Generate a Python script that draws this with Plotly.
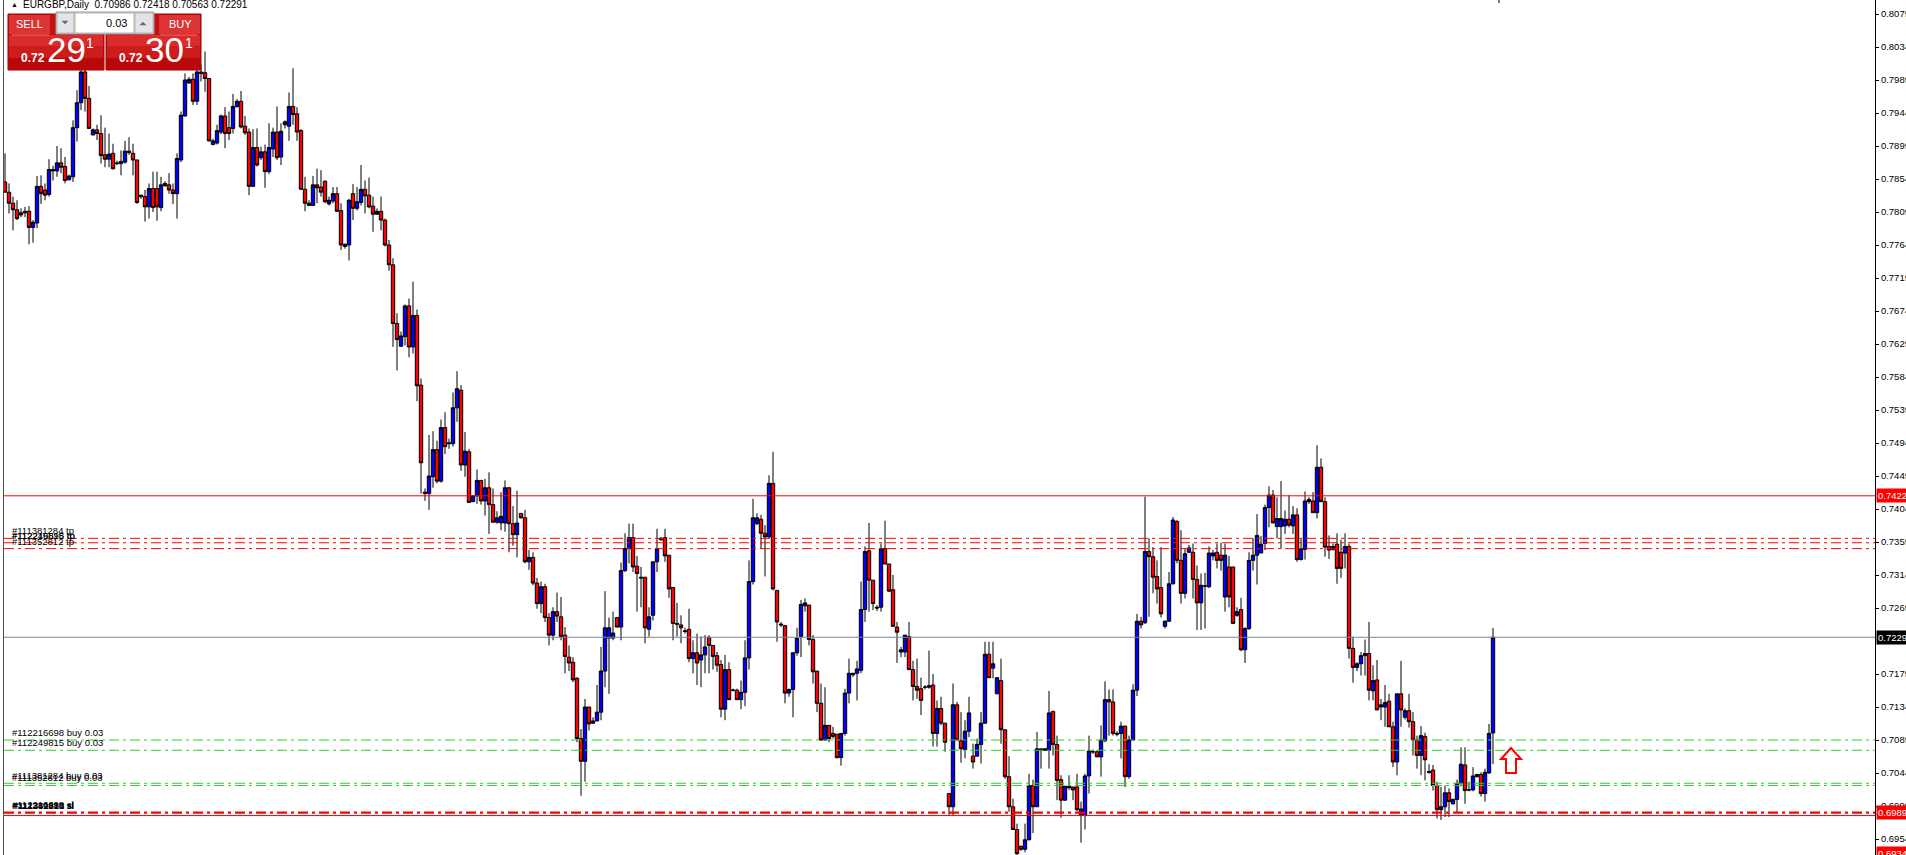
import plotly.graph_objects as go

# ---------------- data ----------------
symbol_title = "EURGBP,Daily  0.70986 0.72418 0.70563 0.72291"

opens = [
    0.7850, 0.7836, 0.7821, 0.7812, 0.7805, 0.7810, 0.7810, 0.7788, 0.7794, 0.7844,
    0.7839, 0.7833, 0.7867, 0.7865, 0.7876, 0.7871, 0.7853, 0.7857, 0.7924, 0.7958,
    0.8000, 0.7964, 0.7914, 0.7921, 0.7916, 0.7887, 0.7881, 0.7889, 0.7876, 0.7875,
    0.7877, 0.7892, 0.7889, 0.7880, 0.7832, 0.7830, 0.7816, 0.7841, 0.7841, 0.7815,
    0.7848, 0.7846, 0.7839, 0.7834, 0.7880, 0.7940, 0.7985, 0.7990, 0.7960, 0.8000,
    0.7999, 0.7991, 0.7901, 0.7903, 0.7918, 0.7940, 0.7924, 0.7923, 0.7953, 0.7960,
    0.7926, 0.7918, 0.7844, 0.7897, 0.7883, 0.7891, 0.7864, 0.7895, 0.7918, 0.7884,
    0.7928, 0.7926, 0.7953, 0.7943, 0.7920, 0.7840, 0.7818, 0.7818, 0.7846, 0.7843,
    0.7851, 0.7820, 0.7824, 0.7834, 0.7811, 0.7762, 0.7764, 0.7834, 0.7814, 0.7822,
    0.7840, 0.7832, 0.7817, 0.7806, 0.7810, 0.7798, 0.7764, 0.7737, 0.7657, 0.7626,
    0.7639, 0.7681, 0.7625, 0.7668, 0.7573, 0.7427, 0.7425, 0.7448, 0.7485, 0.7442,
    0.7515, 0.7493, 0.7493, 0.7542, 0.7566, 0.7464, 0.7482, 0.7414, 0.7422, 0.7443,
    0.7415, 0.7433, 0.7410, 0.7386, 0.7385, 0.7385, 0.7433, 0.7384, 0.7369, 0.7398,
    0.7392, 0.7332, 0.7338, 0.7303, 0.7275, 0.7298, 0.7256, 0.7232, 0.7264, 0.7257,
    0.7232, 0.7202, 0.7195, 0.7173, 0.7091, 0.7060, 0.7134, 0.7112, 0.7115, 0.7127,
    0.7183, 0.7228, 0.7228, 0.7256, 0.7243, 0.7320, 0.7350, 0.7365, 0.7326, 0.7311,
    0.7311, 0.7240, 0.7259, 0.7332, 0.7362, 0.7365, 0.7341, 0.7297, 0.7248, 0.7246,
    0.7238, 0.7240, 0.7200, 0.7208, 0.7198, 0.7205, 0.7229, 0.7218, 0.7204, 0.7192,
    0.7131, 0.7185, 0.7157, 0.7157, 0.7144, 0.7154, 0.7201, 0.7305, 0.7384, 0.7390,
    0.7371, 0.7366, 0.7439, 0.7293, 0.7247, 0.7245, 0.7153, 0.7158, 0.7208, 0.7230,
    0.7272, 0.7273, 0.7226, 0.7183, 0.7139, 0.7089, 0.7109, 0.7098, 0.7097, 0.7065,
    0.7098, 0.7153, 0.7178, 0.7180, 0.7184, 0.7267, 0.7347, 0.7307, 0.7270, 0.7270,
    0.7350, 0.7329, 0.7294, 0.7243, 0.7209, 0.7209, 0.7230, 0.7185, 0.7162, 0.7159,
    0.7161, 0.7161, 0.7164, 0.7098, 0.7132, 0.7112, 0.7016, 0.6998, 0.7137, 0.7088,
    0.7076, 0.7101, 0.7067, 0.7067, 0.7083, 0.7112, 0.7206, 0.7187, 0.7152, 0.7170,
    0.7103, 0.7039, 0.6998, 0.6967, 0.6944, 0.6940, 0.6953, 0.7027, 0.6998, 0.7077,
    0.7075, 0.7075, 0.7128, 0.7083, 0.7035, 0.7007, 0.7026, 0.7025, 0.7025, 0.6986,
    0.6986, 0.7040, 0.7073, 0.7073, 0.7066, 0.7088, 0.7144, 0.7141, 0.7098, 0.7098,
    0.7108, 0.7039, 0.7089, 0.7157, 0.7251, 0.7249, 0.7346, 0.7339, 0.7312, 0.7297,
    0.7244, 0.7251, 0.7302, 0.7387, 0.7334, 0.7289, 0.7345, 0.7345, 0.7308, 0.7276,
    0.7299, 0.7298, 0.7340, 0.7345, 0.7341, 0.7284, 0.7325, 0.7325, 0.7259, 0.7267,
    0.7212, 0.7241, 0.7334, 0.7341, 0.7344, 0.7357, 0.7406, 0.7423, 0.7380, 0.7380,
    0.7381, 0.7390, 0.7381, 0.7396, 0.7335, 0.7349, 0.7414, 0.7415, 0.7399, 0.7461,
    0.7414, 0.7353, 0.7349, 0.7356, 0.7345, 0.7344, 0.7353, 0.7214, 0.7188, 0.7193,
    0.7204, 0.7207, 0.7156, 0.7171, 0.7134, 0.7134, 0.7142, 0.7107, 0.7059, 0.7152,
    0.7120, 0.7129, 0.7114, 0.7089, 0.7068, 0.7094, 0.7046, 0.7048, 0.7027, 0.6994,
    0.6998, 0.7017, 0.7002, 0.7008, 0.7030, 0.7055, 0.7021, 0.7021, 0.7039, 0.7042,
    0.7016, 0.7044, 0.70986,
]

highs = [
    0.7889, 0.7848, 0.7830, 0.7825, 0.7814, 0.7816, 0.7817, 0.7798, 0.7858, 0.7859,
    0.7848, 0.7881, 0.7872, 0.7899, 0.7896, 0.7884, 0.7860, 0.7934, 0.7975, 0.8007,
    0.8005, 0.7981, 0.7923, 0.7928, 0.7941, 0.7924, 0.7916, 0.7902, 0.7879, 0.7893,
    0.7906, 0.7911, 0.7902, 0.7880, 0.7832, 0.7839, 0.7848, 0.7864, 0.7864, 0.7857,
    0.7851, 0.7862, 0.7848, 0.7889, 0.7946, 0.7998, 0.7993, 0.7998, 0.8005, 0.8010,
    0.8028, 0.7991, 0.7909, 0.7928, 0.7942, 0.7952, 0.7946, 0.7970, 0.7963, 0.7974,
    0.7940, 0.7923, 0.7922, 0.7923, 0.7898, 0.7901, 0.7930, 0.7924, 0.7953, 0.7930,
    0.7934, 0.7972, 0.8005, 0.7952, 0.7922, 0.7857, 0.7825, 0.7858, 0.7868, 0.7866,
    0.7852, 0.7830, 0.7843, 0.7843, 0.7821, 0.7766, 0.7827, 0.7847, 0.7843, 0.7873,
    0.7852, 0.7856, 0.7830, 0.7814, 0.7830, 0.7800, 0.7771, 0.7746, 0.7671, 0.7646,
    0.7683, 0.7691, 0.7714, 0.7676, 0.7582, 0.7432, 0.7505, 0.7510, 0.7497, 0.7526,
    0.7536, 0.7500, 0.7563, 0.7592, 0.7573, 0.7509, 0.7486, 0.7422, 0.7458, 0.7443,
    0.7445, 0.7454, 0.7432, 0.7401, 0.7427, 0.7443, 0.7433, 0.7408, 0.7429, 0.7398,
    0.7403, 0.7348, 0.7345, 0.7310, 0.7305, 0.7302, 0.7262, 0.7270, 0.7290, 0.7284,
    0.7243, 0.7218, 0.7202, 0.7175, 0.7104, 0.7145, 0.7134, 0.7120, 0.7164, 0.7216,
    0.7292, 0.7256, 0.7264, 0.7256, 0.7331, 0.7371, 0.7384, 0.7384, 0.7340, 0.7325,
    0.7311, 0.7270, 0.7332, 0.7377, 0.7366, 0.7377, 0.7341, 0.7297, 0.7276, 0.7259,
    0.7242, 0.7268, 0.7225, 0.7234, 0.7230, 0.7232, 0.7232, 0.7218, 0.7209, 0.7198,
    0.7205, 0.7195, 0.7159, 0.7159, 0.7170, 0.7225, 0.7334, 0.7418, 0.7398, 0.7396,
    0.7382, 0.7450, 0.7482, 0.7293, 0.7250, 0.7245, 0.7159, 0.7208, 0.7242, 0.7280,
    0.7282, 0.7273, 0.7232, 0.7183, 0.7166, 0.7161, 0.7109, 0.7107, 0.7097, 0.7098,
    0.7159, 0.7200, 0.7180, 0.7197, 0.7305, 0.7353, 0.7385, 0.7307, 0.7273, 0.7357,
    0.7388, 0.7329, 0.7314, 0.7250, 0.7216, 0.7232, 0.7250, 0.7197, 0.7200, 0.7174,
    0.7164, 0.7211, 0.7179, 0.7143, 0.7148, 0.7112, 0.7016, 0.7166, 0.7141, 0.7127,
    0.7116, 0.7148, 0.7084, 0.7091, 0.7127, 0.7223, 0.7223, 0.7223, 0.7174, 0.7200,
    0.7103, 0.7067, 0.7009, 0.6975, 0.6945, 0.6975, 0.7043, 0.7035, 0.7100, 0.7077,
    0.7077, 0.7156, 0.7129, 0.7095, 0.7041, 0.7026, 0.7041, 0.7025, 0.7043, 0.7005,
    0.7043, 0.7095, 0.7076, 0.7074, 0.7109, 0.7169, 0.7158, 0.7158, 0.7101, 0.7114,
    0.7108, 0.7095, 0.7165, 0.7261, 0.7257, 0.7421, 0.7364, 0.7352, 0.7334, 0.7352,
    0.7252, 0.7318, 0.7393, 0.7389, 0.7375, 0.7350, 0.7355, 0.7357, 0.7327, 0.7316,
    0.7317, 0.7353, 0.7348, 0.7357, 0.7358, 0.7357, 0.7340, 0.7325, 0.7270, 0.7283,
    0.7243, 0.7345, 0.7364, 0.7397, 0.7367, 0.7410, 0.7435, 0.7430, 0.7420, 0.7442,
    0.7402, 0.7423, 0.7408, 0.7405, 0.7364, 0.7428, 0.7420, 0.7427, 0.7491, 0.7473,
    0.7420, 0.7368, 0.7357, 0.7371, 0.7362, 0.7371, 0.7357, 0.7230, 0.7195, 0.7209,
    0.7226, 0.7250, 0.7191, 0.7198, 0.7145, 0.7164, 0.7152, 0.7114, 0.7152, 0.7197,
    0.7132, 0.7152, 0.7127, 0.7095, 0.7108, 0.7099, 0.7056, 0.7055, 0.7032, 0.7025,
    0.7027, 0.7023, 0.7009, 0.7035, 0.7079, 0.7079, 0.7032, 0.7052, 0.7043, 0.7045,
    0.7050, 0.7111, 0.72418,
]

lows = [
    0.7836, 0.7807, 0.7784, 0.7798, 0.7802, 0.7802, 0.7765, 0.7767, 0.7787, 0.7820,
    0.7825, 0.7830, 0.7852, 0.7857, 0.7862, 0.7848, 0.7852, 0.7850, 0.7905, 0.7948,
    0.7946, 0.7922, 0.7914, 0.7907, 0.7875, 0.7870, 0.7870, 0.7867, 0.7873, 0.7859,
    0.7875, 0.7887, 0.7859, 0.7820, 0.7827, 0.7796, 0.7800, 0.7809, 0.7797, 0.7810,
    0.7843, 0.7834, 0.7820, 0.7800, 0.7877, 0.7939, 0.7984, 0.7955, 0.7955, 0.7987,
    0.7973, 0.7905, 0.7900, 0.7901, 0.7915, 0.7896, 0.7907, 0.7916, 0.7951, 0.7923,
    0.7914, 0.7832, 0.7843, 0.7871, 0.7880, 0.7842, 0.7861, 0.7884, 0.7880, 0.7873,
    0.7923, 0.7906, 0.7928, 0.7906, 0.7839, 0.7810, 0.7818, 0.7818, 0.7821, 0.7830,
    0.7821, 0.7818, 0.7821, 0.7809, 0.7757, 0.7759, 0.7743, 0.7798, 0.7811, 0.7818,
    0.7807, 0.7814, 0.7782, 0.7805, 0.7784, 0.7762, 0.7729, 0.7625, 0.7593, 0.7625,
    0.7627, 0.7611, 0.7616, 0.7551, 0.7425, 0.7415, 0.7403, 0.7433, 0.7439, 0.7440,
    0.7479, 0.7486, 0.7489, 0.7523, 0.7456, 0.7448, 0.7413, 0.7414, 0.7411, 0.7410,
    0.7395, 0.7370, 0.7386, 0.7384, 0.7375, 0.7373, 0.7345, 0.7354, 0.7338, 0.7391,
    0.7330, 0.7321, 0.7300, 0.7268, 0.7262, 0.7250, 0.7218, 0.7225, 0.7250, 0.7225,
    0.7180, 0.7183, 0.7168, 0.7086, 0.7013, 0.7032, 0.7102, 0.7111, 0.7115, 0.7116,
    0.7161, 0.7152, 0.7225, 0.7243, 0.7225, 0.7318, 0.7330, 0.7318, 0.7264, 0.7270,
    0.7221, 0.7230, 0.7252, 0.7318, 0.7361, 0.7332, 0.7283, 0.7225, 0.7230, 0.7221,
    0.7234, 0.7195, 0.7180, 0.7164, 0.7161, 0.7180, 0.7180, 0.7185, 0.7182, 0.7120,
    0.7116, 0.7144, 0.7155, 0.7144, 0.7131, 0.7135, 0.7185, 0.7301, 0.7382, 0.7350,
    0.7312, 0.7364, 0.7293, 0.7223, 0.7243, 0.7139, 0.7148, 0.7120, 0.7204, 0.7202,
    0.7264, 0.7218, 0.7166, 0.7127, 0.7088, 0.7088, 0.7086, 0.7091, 0.7064, 0.7054,
    0.7095, 0.7139, 0.7175, 0.7143, 0.7180, 0.7250, 0.7264, 0.7266, 0.7265, 0.7264,
    0.7329, 0.7291, 0.7244, 0.7194, 0.7202, 0.7202, 0.7185, 0.7143, 0.7145, 0.7123,
    0.7158, 0.7159, 0.7080, 0.7080, 0.7109, 0.7073, 0.6986, 0.6986, 0.7089, 0.7058,
    0.7064, 0.7093, 0.7050, 0.7067, 0.7057, 0.7111, 0.7174, 0.7173, 0.7152, 0.7084,
    0.7036, 0.6991, 0.6967, 0.6932, 0.6938, 0.6936, 0.6952, 0.6962, 0.6998, 0.7050,
    0.7074, 0.7050, 0.7068, 0.7007, 0.6983, 0.7006, 0.7021, 0.7007, 0.6992, 0.6949,
    0.6967, 0.7016, 0.7070, 0.7066, 0.7039, 0.7086, 0.7095, 0.7095, 0.7094, 0.7064,
    0.7025, 0.7036, 0.7088, 0.7149, 0.7241, 0.7247, 0.7257, 0.7289, 0.7275, 0.7256,
    0.7241, 0.7250, 0.7301, 0.7330, 0.7275, 0.7282, 0.7344, 0.7282, 0.7239, 0.7239,
    0.7241, 0.7296, 0.7334, 0.7323, 0.7320, 0.7264, 0.7270, 0.7247, 0.7257, 0.7210,
    0.7194, 0.7239, 0.7320, 0.7301, 0.7344, 0.7348, 0.7379, 0.7385, 0.7364, 0.7350,
    0.7370, 0.7379, 0.7370, 0.7332, 0.7334, 0.7335, 0.7411, 0.7399, 0.7391, 0.7414,
    0.7339, 0.7336, 0.7347, 0.7302, 0.7310, 0.7323, 0.7200, 0.7167, 0.7183, 0.7177,
    0.7177, 0.7143, 0.7143, 0.7130, 0.7116, 0.7107, 0.7107, 0.7052, 0.7041, 0.7107,
    0.7117, 0.7106, 0.7068, 0.7050, 0.7041, 0.7034, 0.7043, 0.7020, 0.6982, 0.6980,
    0.6984, 0.6984, 0.7001, 0.6990, 0.7026, 0.7002, 0.7019, 0.7019, 0.7038, 0.7012,
    0.7005, 0.7043, 0.70563,
]

closes = [
    0.7836, 0.7821, 0.7812, 0.7800, 0.7808, 0.7808, 0.7788, 0.7795, 0.7844, 0.7834,
    0.7832, 0.7867, 0.7865, 0.7876, 0.7870, 0.7852, 0.7858, 0.7924, 0.7958, 0.8000,
    0.7964, 0.7923, 0.7921, 0.7916, 0.7886, 0.7881, 0.7888, 0.7868, 0.7875, 0.7878,
    0.7892, 0.7890, 0.7880, 0.7822, 0.7830, 0.7816, 0.7841, 0.7815, 0.7816, 0.7846,
    0.7845, 0.7839, 0.7834, 0.7882, 0.7941, 0.7989, 0.7990, 0.7960, 0.8000, 0.7998,
    0.7991, 0.7906, 0.7906, 0.7920, 0.7940, 0.7916, 0.7916, 0.7953, 0.7960, 0.7925,
    0.7917, 0.7844, 0.7897, 0.7873, 0.7891, 0.7864, 0.7897, 0.7918, 0.7883, 0.7919,
    0.7932, 0.7953, 0.7942, 0.7918, 0.7840, 0.7821, 0.7821, 0.7846, 0.7842, 0.7836,
    0.7823, 0.7825, 0.7834, 0.7810, 0.7764, 0.7765, 0.7825, 0.7814, 0.7823, 0.7840,
    0.7831, 0.7816, 0.7806, 0.7810, 0.7798, 0.7764, 0.7737, 0.7657, 0.7635, 0.7640,
    0.7681, 0.7625, 0.7668, 0.7572, 0.7467, 0.7425, 0.7449, 0.7485, 0.7442, 0.7515,
    0.7489, 0.7494, 0.7542, 0.7568, 0.7464, 0.7483, 0.7413, 0.7422, 0.7443, 0.7415,
    0.7433, 0.7410, 0.7386, 0.7392, 0.7394, 0.7433, 0.7384, 0.7369, 0.7385, 0.7392,
    0.7332, 0.7338, 0.7303, 0.7275, 0.7298, 0.7256, 0.7232, 0.7264, 0.7258, 0.7230,
    0.7203, 0.7194, 0.7171, 0.7091, 0.7060, 0.7134, 0.7111, 0.7115, 0.7127, 0.7183,
    0.7242, 0.7242, 0.7235, 0.7243, 0.7320, 0.7350, 0.7365, 0.7325, 0.7316, 0.7310,
    0.7242, 0.7257, 0.7332, 0.7350, 0.7364, 0.7340, 0.7295, 0.7248, 0.7247, 0.7242,
    0.7237, 0.7200, 0.7208, 0.7194, 0.7205, 0.7216, 0.7218, 0.7203, 0.7191, 0.7131,
    0.7185, 0.7144, 0.7157, 0.7144, 0.7154, 0.7201, 0.7305, 0.7392, 0.7392, 0.7371,
    0.7366, 0.7439, 0.7295, 0.7250, 0.7246, 0.7153, 0.7158, 0.7208, 0.7228, 0.7274,
    0.7276, 0.7226, 0.7182, 0.7139, 0.7089, 0.7109, 0.7091, 0.7094, 0.7065, 0.7098,
    0.7153, 0.7180, 0.7180, 0.7186, 0.7267, 0.7346, 0.7307, 0.7275, 0.7269, 0.7350,
    0.7329, 0.7292, 0.7244, 0.7236, 0.7212, 0.7232, 0.7185, 0.7162, 0.7157, 0.7143,
    0.7161, 0.7163, 0.7098, 0.7132, 0.7112, 0.7086, 0.6998, 0.7137, 0.7089, 0.7077,
    0.7101, 0.7126, 0.7059, 0.7083, 0.7112, 0.7206, 0.7174, 0.7193, 0.7174, 0.7103,
    0.7039, 0.6998, 0.6967, 0.6934, 0.6940, 0.6953, 0.7027, 0.6998, 0.7077, 0.7075,
    0.7077, 0.7126, 0.7083, 0.7034, 0.7007, 0.7026, 0.7024, 0.7021, 0.6994, 0.6995,
    0.7040, 0.7074, 0.7073, 0.7066, 0.7089, 0.7144, 0.7141, 0.7098, 0.7097, 0.7108,
    0.7039, 0.7089, 0.7157, 0.7251, 0.7246, 0.7346, 0.7339, 0.7311, 0.7295, 0.7261,
    0.7251, 0.7302, 0.7389, 0.7334, 0.7289, 0.7343, 0.7351, 0.7308, 0.7276, 0.7300,
    0.7299, 0.7344, 0.7344, 0.7334, 0.7334, 0.7341, 0.7284, 0.7248, 0.7264, 0.7212,
    0.7241, 0.7334, 0.7341, 0.7368, 0.7356, 0.7406, 0.7423, 0.7385, 0.7391, 0.7391,
    0.7390, 0.7382, 0.7396, 0.7335, 0.7350, 0.7415, 0.7417, 0.7399, 0.7461, 0.7414,
    0.7352, 0.7348, 0.7353, 0.7323, 0.7323, 0.7353, 0.7214, 0.7188, 0.7193, 0.7204,
    0.7207, 0.7157, 0.7170, 0.7130, 0.7137, 0.7140, 0.7107, 0.7059, 0.7152, 0.7130,
    0.7129, 0.7114, 0.7089, 0.7068, 0.7095, 0.7062, 0.7045, 0.7027, 0.6994, 0.6998,
    0.7017, 0.7005, 0.7008, 0.7030, 0.7056, 0.7020, 0.7021, 0.7040, 0.7042, 0.7016,
    0.7045, 0.7098, 0.72291,
]

bar_index = list(range(len(closes)))

price_ticks = [0.8079, 0.8034, 0.7989, 0.7944, 0.7899, 0.7854, 0.7809, 0.7764, 0.7719,
               0.7674, 0.7629, 0.7584, 0.7539, 0.7494, 0.7449, 0.7404, 0.7359, 0.7314,
               0.7269, 0.7179, 0.7134, 0.7089, 0.7044, 0.6999, 0.6954]
price_tick_text = ["0.8079", "0.8034", "0.7989", "0.7944", "0.7899", "0.7854", "0.7809",
                   "0.7764", "0.7719", "0.7674", "0.7629", "0.7584", "0.7539", "0.7494",
                   "0.7449", "0.7404", "0.7359", "0.7314", "0.7269", "0.7179", "0.7134",
                   "0.7089", "0.7044", "0.6999", "0.6954"]

resistance_level = 0.7422
current_price = 0.72291
support_level = 0.6986
tp_levels = [0.7364, 0.7358, 0.7350]
buy_levels = [0.7089, 0.7075, 0.7030, 0.7027]
sl_levels = [0.69905, 0.69895]

tp_label_text = ["#111381284 tp", "#112249815 tp", "#112216698 tp", "#111352812 tp"]
tp_label_price = [0.7364, 0.7358, 0.73575, 0.7350]
buy_label_text = ["#112216698 buy 0.03", "#112249815 buy 0.03",
                  "#111381284 buy 0.03", "#111352812 buy 0.03"]
buy_label_price = [0.7089, 0.7075, 0.7030, 0.7027]
sl_label_text = ["#112216698 sl", "#112249815 sl", "#111381284 sl", "#111352812 sl"]
sl_label_price = [0.69905, 0.6990, 0.69895, 0.6989]

tag_text = ["0.74220", "0.72291", "0.69895", "0.69340"]
tag_price = [0.7422, 0.72291, 0.69895, 0.6934]
tag_color = ["#FF0000", "#000000", "#FF0000", "#FF0000"]

# ---------------- layout geometry (pixels) ----------------
W, H = 1906, 855
PL, PR = 4, 1875
Y_TOP, Y_BOT = 0.80981, 0.69322


def fx(x):
    return (x - PL) / (PR - PL)


def fy(y):
    return 1 - y / H


fig = go.Figure()

fig.add_trace(go.Candlestick(
    x=bar_index, open=opens, high=highs, low=lows, close=closes,
    increasing=dict(line=dict(color="#000000", width=1), fillcolor="#0000FF"),
    decreasing=dict(line=dict(color="#000000", width=1), fillcolor="#FF0000"),
    whiskerwidth=0, hoverinfo="skip", showlegend=False,
))

shapes = []


def hline(price, color, dash="solid", width=1):
    shapes.append(dict(type="line", xref="paper", yref="y", x0=0, x1=1, y0=price, y1=price,
                       line=dict(color=color, width=width, dash=dash), layer="above"))


DASHDOT = "10px,4px,3px,4px"
hline(resistance_level, "#FF0000")
for p in tp_levels:
    hline(p, "#FF0000", DASHDOT)
hline(current_price, "#778899")
for p in buy_levels:
    hline(p, "#32CD32", DASHDOT)
for p in sl_levels:
    hline(p, "#FF0000", DASHDOT, 1.5)
hline(support_level, "#FF0000")

# left chart frame line
shapes.append(dict(type="line", xref="paper", yref="paper", x0=fx(3.5), x1=fx(3.5), y0=0, y1=1,
                   line=dict(color="#505050", width=1), layer="above"))
# small mark at top
shapes.append(dict(type="line", xref="paper", yref="paper", x0=fx(1499), x1=fx(1499), y0=fy(0), y1=fy(3),
                   line=dict(color="#7080a0", width=2), layer="above"))


def rect(x0, y0, x1, y1, fill, line=None, lw=1):
    shapes.append(dict(type="rect", xref="paper", yref="paper",
                       x0=fx(x0), x1=fx(x1), y0=fy(y1), y1=fy(y0),
                       fillcolor=fill, line=dict(color=line or fill, width=lw if line else 0),
                       layer="above"))


# one-click trading panel
for (a, b) in [(8, 104), (106, 201)]:
    rect(a, 14, b, 70, "#c41010", "#a00000")
    rect(a + 1, 35, b - 1, 46, "#da2c2c")
    rect(a + 1, 46, b - 1, 58, "#cc1c1c")
    rect(a + 1, 58, b - 1, 69, "#b80808")
rect(9, 15, 50, 34, "#dc3434")
rect(159, 15, 200, 34, "#dc3434")
shapes.append(dict(type="line", xref="paper", yref="paper", x0=fx(12), x1=fx(49), y0=fy(35), y1=fy(35),
                   line=dict(color="#f07070", width=1), layer="above"))
shapes.append(dict(type="line", xref="paper", yref="paper", x0=fx(160), x1=fx(197), y0=fy(35), y1=fy(35),
                   line=dict(color="#f07070", width=1), layer="above"))
rect(56, 12, 154, 34, "#d0d0d0", "#9a9a9a")
rect(57, 13, 74, 33, "#e4e4e4", "#b4b4b4")
rect(75, 13, 134, 33, "#ffffff", "#b4b4b4")
rect(135, 13, 153, 33, "#e4e4e4", "#b4b4b4")


def tri(points, color):
    path = "M " + " L ".join(f"{fx(x)},{fy(y)}" for x, y in points) + " Z"
    shapes.append(dict(type="path", xref="paper", yref="paper", path=path,
                       fillcolor=color, line=dict(color=color, width=0.5), layer="above"))


tri([(62, 21), (68, 21), (65, 24)], "#5a6a9a")
tri([(140, 25), (146, 25), (143, 22)], "#5a6a9a")

# red up arrow
arrow_pts = [(1501, 759), (1511, 748), (1521, 759), (1516, 759), (1516, 773), (1506, 773), (1506, 759)]
shapes.append(dict(type="path", xref="paper", yref="paper",
                   path="M " + " L ".join(f"{fx(x)},{fy(y)}" for x, y in arrow_pts) + " Z",
                   fillcolor="#ffffff", line=dict(color="#FF0000", width=2), layer="above"))

annotations = []
LBL_FONT = "Liberation Sans, Arial, sans-serif"


def add_text(x, y, text, size, color="#000000", anchor="left", bold=False, family=LBL_FONT):
    annotations.append(dict(xref="paper", yref="paper", x=fx(x), y=fy(y), text=(f"<b>{text}</b>" if bold else text),
                            showarrow=False, xanchor=anchor, yanchor="middle",
                            font=dict(family=family, size=size, color=color)))


def line_label(text, price, dx=0):
    annotations.append(dict(xref="paper", yref="y", x=fx(10 + dx), y=price, text=text,
                            showarrow=False, xanchor="left", yanchor="bottom", yshift=0,
                            font=dict(family=LBL_FONT, size=9.5, color="#000000")))


for t, p in zip(tp_label_text, tp_label_price):
    line_label(t, p)
for t, p in zip(buy_label_text, buy_label_price):
    line_label(t, p)
for k, (t, p) in enumerate(zip(sl_label_text, sl_label_price)):
    line_label(t, p, dx=k * 0.4)

# price tags on the axis
for t, p, c in zip(tag_text, tag_price, tag_color):
    annotations.append(dict(xref="paper", yref="y", x=fx(1876), y=p, text=t, showarrow=False,
                            xanchor="left", yanchor="middle", bgcolor=c, borderpad=1,
                            font=dict(family=LBL_FONT, size=9.5, color="#ffffff")))

# header and panel text
add_text(9, 5, "▲", 7)
add_text(21, 5, symbol_title, 10)
add_text(29, 24, "SELL", 11, "#ffffff", "center")
add_text(180, 24, "BUY", 11, "#ffffff", "center")
add_text(129, 23, "0.03", 11, "#000000", "right")
add_text(33, 58, "0.72", 12, "#ffffff", "center", bold=True)
add_text(66, 49, "29", 35, "#ffffff", "center")
add_text(90, 43, "1", 14, "#ffffff", "center")
add_text(131, 58, "0.72", 12, "#ffffff", "center", bold=True)
add_text(164, 49, "30", 35, "#ffffff", "center")
add_text(189, 43, "1", 14, "#ffffff", "center")

fig.update_layout(
    template="none",
    width=W, height=H,
    margin=dict(l=PL, r=W - PR, t=0, b=0, pad=0),
    paper_bgcolor="#ffffff", plot_bgcolor="#ffffff",
    showlegend=False, hovermode=False,
    boxgap=0.15, boxgroupgap=0.0,
    shapes=shapes, annotations=annotations,
    xaxis=dict(range=[-0.25, (PR - PL) / 4 - 0.25], visible=False, rangeslider=dict(visible=False),
               fixedrange=True, automargin=False),
    yaxis=dict(range=[Y_BOT, Y_TOP], side="right", showgrid=False, zeroline=False,
               showline=True, linecolor="#000000", linewidth=1, ticks="outside", ticklen=3,
               tickcolor="#000000", tickvals=price_ticks, ticktext=price_tick_text,
               tickfont=dict(family=LBL_FONT, size=9.5, color="#000000"),
               automargin=False, fixedrange=True),
)

fig.write_html("out.html", config={"displayModeBar": False},
               post_script="document.body.style.margin='0';document.body.style.overflow='hidden';")
